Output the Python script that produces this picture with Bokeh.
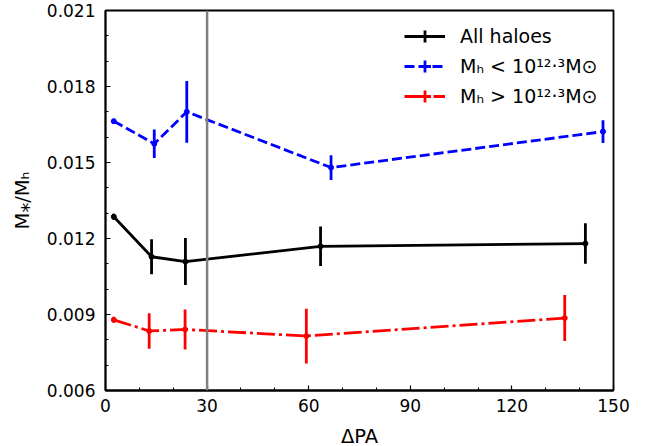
from bokeh.plotting import figure
from bokeh.models import (Range1d, FixedTicker, NumeralTickFormatter, Span, Legend, LegendItem, ColumnDataSource)
from bokeh.embed import file_html
from bokeh.resources import INLINE

# ---- data ----
dpa_all = [2.45, 13.6, 23.6, 63.5, 141.7]
ratio_all = [0.01286, 0.01128, 0.01109, 0.01169, 0.01180]
err_all = [0.00012, 0.00069, 0.00093, 0.00078, 0.00080]

dpa_low = [2.45, 14.4, 24.0, 66.6, 146.9]
ratio_low = [0.01663, 0.01574, 0.01700, 0.01480, 0.01622]
err_low = [0.00010, 0.00056, 0.00122, 0.00049, 0.00045]

dpa_high = [2.45, 12.9, 23.5, 59.3, 135.6]
ratio_high = [0.00879, 0.00835, 0.00841, 0.00815, 0.00886]
err_high = [0.00012, 0.00070, 0.00079, 0.00108, 0.00091]

x_ticks = [0, 30, 60, 90, 120, 150]
x_minor = [10, 20, 40, 50, 70, 80, 100, 110, 130, 140]
y_ticks = [0.006, 0.009, 0.012, 0.015, 0.018, 0.021]
y_minor = [0.007, 0.008, 0.010, 0.011, 0.013, 0.014, 0.016, 0.017, 0.019, 0.020]
vline_x = 30

labels = ["All haloes", "M\u2095 < 10\u00b9\u00b2\u00b7\u00b3M\u2299", "M\u2095 > 10\u00b9\u00b2\u00b7\u00b3M\u2299"]

FONT = "DejaVu Sans"

p = figure(frame_width=508, frame_height=380, output_backend="svg", toolbar_location=None,
           x_range=Range1d(0, 150), y_range=Range1d(0.006, 0.021),
           min_border_left=105, min_border_top=10, min_border_right=28, min_border_bottom=48)
p.background_fill_color = "white"
p.border_fill_color = "white"
p.outline_line_color = "black"
p.outline_line_width = 1.8
p.xgrid.visible = False
p.ygrid.visible = False

p.add_layout(Span(location=vline_x, dimension="height", line_color="#808080", line_width=2.5))

series = [
    (dpa_all, ratio_all, err_all, "black", "solid", labels[0]),
    (dpa_low, ratio_low, err_low, "blue", "10 4", labels[1]),
    (dpa_high, ratio_high, err_high, "red", "18 4 3 4", labels[2]),
]

items = []
for xs, ys, es, col, dash, lab in series:
    lo = [y - e for y, e in zip(ys, es)]
    hi = [y + e for y, e in zip(ys, es)]
    src = ColumnDataSource(dict(x=xs, y=ys, lo=lo, hi=hi))
    p.segment(x0="x", y0="lo", x1="x", y1="hi", source=src, line_color=col, line_width=2.8)
    lr = p.line("x", "y", source=src, line_color=col, line_width=2.8, line_dash=dash)
    p.scatter("x", "y", source=src, size=5, color=col)
    cr = p.scatter("x", "y", source=src, marker="cross", size=0, line_color=col, line_width=2.8)
    items.append(LegendItem(label=lab, renderers=[lr, cr]))

legend = Legend(items=items, location=(294, 274), orientation="vertical",
                glyph_width=41, glyph_height=30, spacing=0, padding=5, margin=0,
                label_standoff=15, label_text_font=FONT, label_text_font_size="19px",
                label_text_color="black",
                border_line_alpha=0, background_fill_alpha=0)
p.add_layout(legend)

for ax in (p.xaxis[0], p.yaxis[0]):
    ax.axis_line_color = "black"
    ax.axis_line_width = 1.8
    ax.major_tick_in = 5
    ax.major_tick_out = 0
    ax.minor_tick_in = 3
    ax.minor_tick_out = 0
    ax.major_tick_line_color = "black"
    ax.minor_tick_line_color = "black"
    ax.major_tick_line_width = 1.2
    ax.minor_tick_line_width = 1
    ax.major_label_text_font = FONT
    ax.major_label_text_font_size = "17px"
    ax.major_label_text_color = "black"
    ax.axis_label_text_font = FONT
    ax.axis_label_text_font_size = "19.5px"
    ax.axis_label_text_font_style = "normal"
    ax.axis_label_text_color = "black"

p.xaxis.ticker = FixedTicker(ticks=x_ticks, minor_ticks=x_minor)
p.yaxis.ticker = FixedTicker(ticks=y_ticks, minor_ticks=y_minor)
p.yaxis.formatter = NumeralTickFormatter(format="0.000")
p.xaxis.axis_label = "\u0394PA"
p.yaxis.axis_label = "M\u204e/M\u2095"
p.xaxis.major_label_standoff = 8
p.yaxis.major_label_standoff = 10
p.yaxis.axis_label_standoff = 10
p.xaxis.axis_label_standoff = 10

open("out.html", "w").write(file_html(p, INLINE))
